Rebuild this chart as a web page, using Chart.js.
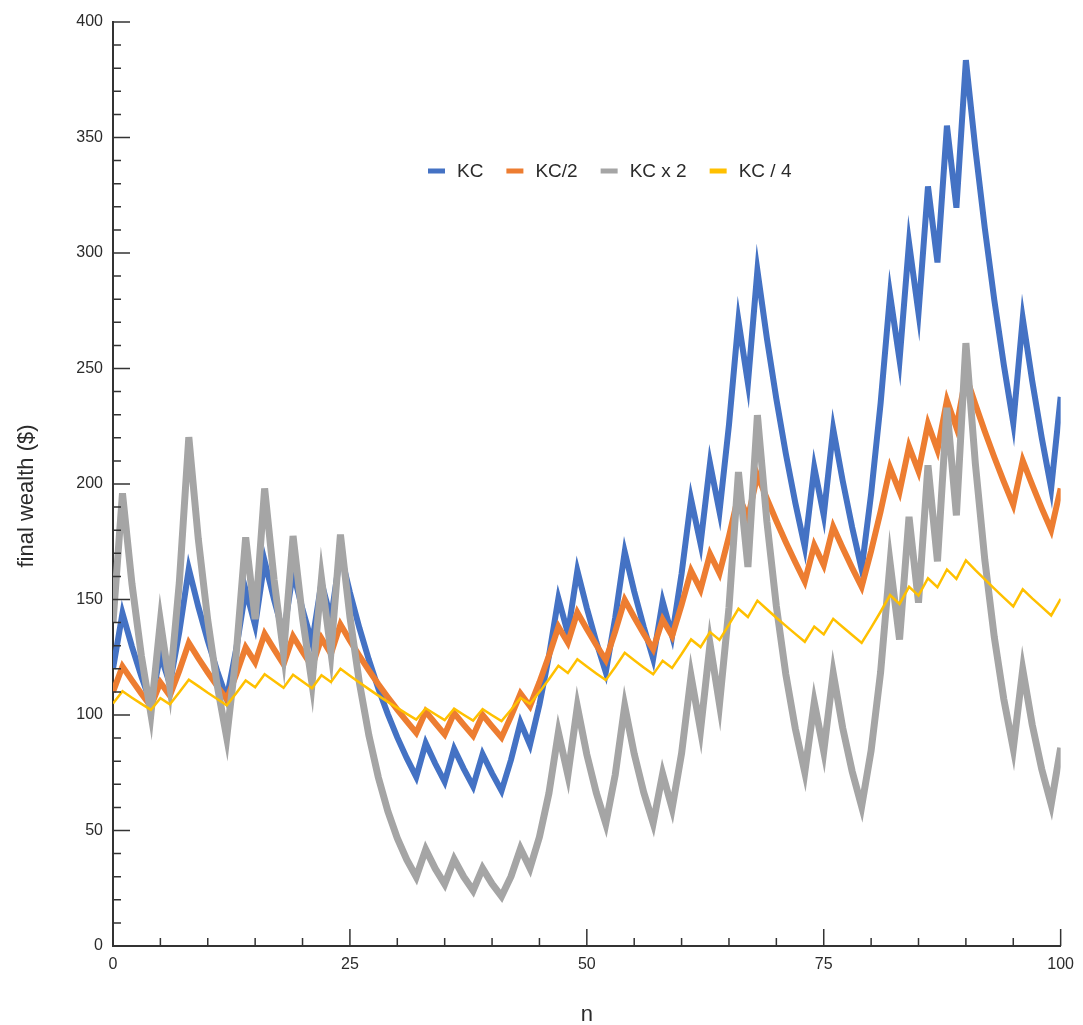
<!DOCTYPE html>
<html>
<head>
<meta charset="utf-8">
<title>final wealth vs n</title>
<script src="https://cdn.jsdelivr.net/npm/chart.js@4.4.1/dist/chart.umd.min.js"></script>
<style>
  html, body { margin: 0; padding: 0; background: #ffffff; }
  canvas { display: block; }
</style>
</head>
<body>
<canvas id="chart" width="1083" height="1025"></canvas>
<script>
// bet number
const steps = [
  0, 1, 2, 3, 4, 5, 6, 7, 8, 9,
  10, 11, 12, 13, 14, 15, 16, 17, 18, 19,
  20, 21, 22, 23, 24, 25, 26, 27, 28, 29,
  30, 31, 32, 33, 34, 35, 36, 37, 38, 39,
  40, 41, 42, 43, 44, 45, 46, 47, 48, 49,
  50, 51, 52, 53, 54, 55, 56, 57, 58, 59,
  60, 61, 62, 63, 64, 65, 66, 67, 68, 69,
  70, 71, 72, 73, 74, 75, 76, 77, 78, 79,
  80, 81, 82, 83, 84, 85, 86, 87, 88, 89,
  90, 91, 92, 93, 94, 95, 96, 97, 98, 99,
  100
];

// wealth ($) after each bet, one list per betting fraction
const kc = [
  120.0, 144.0, 129.6, 116.6, 105.0, 126.0, 113.4, 136.0, 163.3, 146.9,
  132.2, 119.0, 107.1, 128.5, 154.2, 138.8, 166.6, 149.9, 134.9, 161.9,
  145.7, 131.2, 157.4, 141.7, 170.0, 153.0, 137.7, 123.9, 111.5, 100.4,
  90.3, 81.3, 73.2, 87.8, 79.0, 71.1, 85.3, 76.8, 69.1, 83.0,
  74.7, 67.2, 80.6, 96.8, 87.1, 104.5, 125.4, 150.5, 135.4, 162.5,
  146.3, 131.6, 118.5, 142.2, 170.6, 153.5, 138.2, 124.4, 149.2, 134.3,
  161.2, 193.4, 174.1, 208.9, 188.0, 225.6, 270.7, 243.7, 292.4, 263.1,
  236.8, 213.1, 191.8, 172.7, 207.2, 186.5, 223.8, 201.4, 181.2, 163.1,
  195.7, 234.9, 281.9, 253.7, 304.4, 274.0, 328.8, 295.9, 355.1, 319.6,
  383.5, 345.1, 310.6, 279.6, 251.6, 226.4, 271.7, 244.6, 220.1, 198.1,
  237.7
];

const kcHalf = [
  110.0, 121.0, 115.0, 109.2, 103.7, 114.1, 108.4, 119.2, 131.2, 124.6,
  118.4, 112.5, 106.8, 117.5, 129.3, 122.8, 135.1, 128.4, 121.9, 134.1,
  127.4, 121.0, 133.2, 126.5, 139.2, 132.2, 125.6, 119.3, 113.3, 107.7,
  102.3, 97.2, 92.3, 101.5, 96.5, 91.6, 100.8, 95.8, 91.0, 100.1,
  95.1, 90.3, 99.4, 109.3, 103.8, 114.2, 125.6, 138.2, 131.3, 144.4,
  137.2, 130.3, 123.8, 136.2, 149.8, 142.3, 135.2, 128.5, 141.3, 134.2,
  147.7, 162.4, 154.3, 169.7, 161.3, 177.4, 195.1, 185.4, 203.9, 193.7,
  184.0, 174.8, 166.1, 157.8, 173.5, 164.9, 181.4, 172.3, 163.7, 155.5,
  171.0, 188.1, 207.0, 196.6, 216.3, 205.5, 226.0, 214.7, 236.2, 224.4,
  246.8, 234.5, 222.7, 211.6, 201.0, 191.0, 210.1, 199.6, 189.6, 180.1,
  198.1
];

const kcDouble = [
  140.0, 196.0, 156.8, 125.4, 100.4, 140.5, 112.4, 157.4, 220.3, 176.2,
  141.0, 112.8, 90.2, 126.3, 176.9, 141.5, 198.1, 158.5, 126.8, 177.5,
  142.0, 113.6, 159.0, 127.2, 178.1, 142.5, 114.0, 91.2, 73.0, 58.4,
  46.7, 37.4, 29.9, 41.8, 33.5, 26.8, 37.5, 30.0, 24.0, 33.6,
  26.9, 21.5, 30.1, 42.1, 33.7, 47.2, 66.1, 92.5, 74.0, 103.6,
  82.9, 66.3, 53.0, 74.2, 103.9, 83.2, 66.5, 53.2, 74.5, 59.6,
  83.4, 116.8, 93.5, 130.8, 104.7, 146.5, 205.2, 164.1, 229.8, 183.8,
  147.1, 117.6, 94.1, 75.3, 105.4, 84.3, 118.1, 94.4, 75.6, 60.4,
  84.6, 118.5, 165.9, 132.7, 185.8, 148.6, 208.1, 166.5, 233.0, 186.4,
  261.0, 208.8, 167.0, 133.6, 106.9, 85.5, 119.7, 95.8, 76.6, 61.3,
  85.8
];

const kcQuarter = [
  105.0, 110.3, 107.5, 104.8, 102.2, 107.3, 104.6, 109.8, 115.3, 112.5,
  109.6, 106.9, 104.2, 109.4, 114.9, 112.0, 117.6, 114.7, 111.8, 117.4,
  114.5, 111.6, 117.2, 114.3, 120.0, 117.0, 114.1, 111.2, 108.4, 105.7,
  103.1, 100.5, 98.0, 102.9, 100.3, 97.8, 102.7, 100.1, 97.6, 102.5,
  99.9, 97.4, 102.3, 107.4, 104.8, 110.0, 115.5, 121.3, 118.2, 124.1,
  121.0, 118.0, 115.1, 120.8, 126.9, 123.7, 120.6, 117.6, 123.5, 120.4,
  126.4, 132.7, 129.4, 135.9, 132.5, 139.1, 146.0, 142.4, 149.5, 145.8,
  142.1, 138.6, 135.1, 131.7, 138.3, 134.9, 141.6, 138.1, 134.6, 131.2,
  137.8, 144.7, 151.9, 148.1, 155.5, 151.7, 159.2, 155.3, 163.0, 158.9,
  166.9, 162.7, 158.7, 154.7, 150.8, 147.0, 154.4, 150.5, 146.8, 143.1,
  150.3
];

const seriesNames = ['KC', 'KC/2', 'KC x 2', 'KC / 4'];
const xTickLabels = [0, 25, 50, 75, 100];
const yTickLabels = [0, 50, 100, 150, 200, 250, 300, 350, 400];

const FONT = '"Liberation Sans", Arial, Helvetica, sans-serif';
const AXIS_COLOR = '#333333';
const TEXT_COLOR = '#2b2b2b';

const toPoints = (ys) => ys.map((y, i) => ({ x: steps[i], y }));

// tick marks drawn on the inside of both axes
const innerTicks = {
  id: 'innerTicks',
  afterDraw(chart) {
    const { ctx, chartArea, scales: { x, y } } = chart;
    ctx.save();
    ctx.strokeStyle = AXIS_COLOR;
    ctx.lineWidth = 1.5;
    ctx.beginPath();
    for (let v = 0; v <= 400; v += 10) {
      const py = y.getPixelForValue(v);
      const len = v % 50 === 0 ? 17 : 8;
      ctx.moveTo(chartArea.left, py);
      ctx.lineTo(chartArea.left + len, py);
    }
    for (let v = 0; v <= 100; v += 5) {
      const px = x.getPixelForValue(v);
      const len = v % 25 === 0 ? 17 : 8;
      ctx.moveTo(px, chartArea.bottom);
      ctx.lineTo(px, chartArea.bottom - len);
    }
    ctx.stroke();
    ctx.restore();
  }
};

// horizontal legend placed inside the plot
const floatingLegend = {
  id: 'floatingLegend',
  afterDraw(chart) {
    const { ctx } = chart;
    const left = 428, cy = 171, swatchW = 17, swatchH = 5, gap = 12, itemGap = 23;
    ctx.save();
    ctx.font = '19px ' + FONT;
    ctx.textBaseline = 'middle';
    ctx.textAlign = 'left';
    let xPos = left;
    chart.data.datasets.forEach((ds) => {
      ctx.fillStyle = ds.borderColor;
      ctx.fillRect(xPos, cy - swatchH / 2, swatchW, swatchH);
      xPos += swatchW + gap;
      ctx.fillStyle = TEXT_COLOR;
      ctx.fillText(ds.label, xPos, cy + 1);
      xPos += ctx.measureText(ds.label).width + itemGap;
    });
    ctx.restore();
  }
};

// axis titles
const axisTitles = {
  id: 'axisTitles',
  afterDraw(chart) {
    const { ctx, chartArea } = chart;
    ctx.save();
    ctx.font = '22px ' + FONT;
    ctx.fillStyle = TEXT_COLOR;
    ctx.textAlign = 'center';
    ctx.textBaseline = 'middle';
    ctx.fillText('n', (chartArea.left + chartArea.right) / 2, 1015);
    ctx.translate(27, 496);
    ctx.rotate(-Math.PI / 2);
    ctx.fillText('final wealth ($)', 0, 0);
    ctx.restore();
  }
};

const lineStyle = (color, width, order) => ({
  borderColor: color,
  backgroundColor: color,
  borderWidth: width,
  pointRadius: 0,
  pointHoverRadius: 0,
  tension: 0,
  fill: false,
  borderJoinStyle: 'miter',
  order
});

new Chart(document.getElementById('chart'), {
  type: 'line',
  data: {
    datasets: [
      { label: seriesNames[0], data: toPoints(kc), ...lineStyle('#4472C4', 6, 4) },
      { label: seriesNames[1], data: toPoints(kcHalf), ...lineStyle('#ED7D31', 6, 3) },
      { label: seriesNames[2], data: toPoints(kcDouble), ...lineStyle('#A5A5A5', 7, 2) },
      { label: seriesNames[3], data: toPoints(kcQuarter), ...lineStyle('#FFC000', 2.5, 1) }
    ]
  },
  options: {
    responsive: false,
    animation: false,
    devicePixelRatio: 1,
    layout: { padding: { top: 22, right: 15, left: 0, bottom: 0 } },
    plugins: {
      legend: { display: false },
      tooltip: { enabled: false }
    },
    scales: {
      x: {
        type: 'linear',
        min: 0,
        max: 100,
        grid: { display: false, drawTicks: false },
        border: { display: true, color: AXIS_COLOR, width: 2 },
        ticks: {
          padding: 9,
          color: TEXT_COLOR,
          font: { family: FONT, size: 16 },
          maxRotation: 0,
          autoSkip: false
        },
        afterBuildTicks(scale) { scale.ticks = xTickLabels.map((v) => ({ value: v })); },
        afterFit(scale) { scale.height = 79; }
      },
      y: {
        type: 'linear',
        min: 0,
        max: 400,
        grid: { display: false, drawTicks: false },
        border: { display: true, color: AXIS_COLOR, width: 2 },
        ticks: {
          padding: 10,
          color: TEXT_COLOR,
          font: { family: FONT, size: 16 },
          autoSkip: false
        },
        afterBuildTicks(scale) { scale.ticks = yTickLabels.map((v) => ({ value: v })); },
        afterFit(scale) { scale.width = 113; }
      }
    }
  },
  plugins: [innerTicks, floatingLegend, axisTitles]
});
</script>
</body>
</html>
